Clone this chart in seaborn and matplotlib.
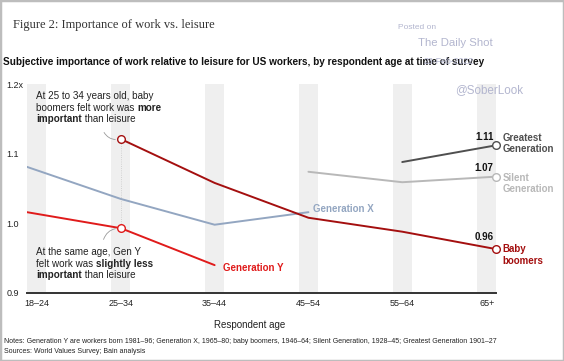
import matplotlib
matplotlib.use("Agg")
import matplotlib.pyplot as plt
import numpy as np
import pandas as pd
import seaborn as sns
from matplotlib.offsetbox import AnnotationBbox, HPacker, TextArea, VPacker
from matplotlib.patches import Rectangle

age_groups = ["18–24", "25–34", "35–44", "45–54", "55–64", "65+"]
gen_y = [1.016, 0.993, 0.940, np.nan, np.nan, np.nan]
gen_x = [1.081, 1.035, 0.998, 1.016, np.nan, np.nan]
boomers = [np.nan, 1.121, 1.058, 1.008, 0.988, 0.963]
silent = [np.nan, np.nan, np.nan, 1.074, 1.059, 1.067]
greatest = [np.nan, np.nan, np.nan, np.nan, 1.088, 1.112]
y_ticks = [0.9, 1.0, 1.1, 1.2]
y_tick_labels = ["0.9", "1.0", "1.1", "1.2x"]

colors = {
    "Generation Y": "#e01b1b",
    "Generation X": "#93a6c1",
    "Baby boomers": "#a40f0f",
    "Silent Generation": "#b8b8b8",
    "Greatest Generation": "#4f4f4f",
}

series = {
    "Generation Y": gen_y,
    "Generation X": gen_x,
    "Baby boomers": boomers,
    "Silent Generation": silent,
    "Greatest Generation": greatest,
}
df = pd.concat(
    [pd.DataFrame({"pos": np.arange(len(age_groups)), "value": v, "generation": k}) for k, v in series.items()]
).dropna()

sns.set_style("white")
plt.rcParams["font.family"] = ["Liberation Sans", "DejaVu Sans"]

fig = plt.figure(figsize=(5.64, 3.61), dpi=100)
ax = fig.add_axes([0.0479, 0.1884, 0.8316, 0.5789])

# grey bands behind each age group (edge bands sit inside the axis)
n = len(age_groups)
band_centers = [0.1] + list(range(1, n - 1)) + [n - 1.1]
for c in band_centers:
    ax.axvspan(c - 0.1, c + 0.1, color="#efefef", lw=0, zorder=0)

sns.lineplot(data=df, x="pos", y="value", hue="generation", palette=colors,
             hue_order=list(series), linewidth=1.4, legend=False, ax=ax, zorder=3)

# dotted guide lines between the highlighted points
ax.plot([1, 1], [boomers[1], gen_y[1]], color="#c8c8c8", lw=0.6, ls=":", zorder=2)
ax.plot([n - 1, n - 1], [greatest[-1], boomers[-1]], color="#d0d0d0", lw=0.6, ls=":", zorder=2)

# open circle markers
for name, vals, idx in [("Baby boomers", boomers, 1), ("Generation Y", gen_y, 1),
                        ("Greatest Generation", greatest, n - 1), ("Silent Generation", silent, n - 1),
                        ("Baby boomers", boomers, n - 1)]:
    ax.plot(idx, vals[idx], "o", ms=5.5, mfc="white", mec=colors[name], mew=1.0, zorder=5, clip_on=False)

ax.set_xlim(0, n - 1)
ax.set_ylim(0.9, 1.2)
ax.set_xticks(band_centers)
ax.set_xticklabels(age_groups, fontsize=6.5, color="#222222")
ax.set_yticks(y_ticks)
ax.set_yticklabels(y_tick_labels, fontsize=6.5, color="#222222", ha="left")
ax.tick_params(axis="x", length=0, pad=4)
ax.tick_params(axis="y", length=0, pad=15)
for s in ["left", "right", "top"]:
    ax.spines[s].set_visible(False)
ax.spines["bottom"].set_color("#333333")
ax.spines["bottom"].set_linewidth(1.4)
ax.set_xlabel("Respondent age", fontsize=7, color="#222222")
ax.xaxis.set_label_coords(0.475, -0.13)
ax.set_ylabel("")


def rich_block(lines, size=7.1):
    # each line is a list of (text, bold) pieces
    rows = []
    for pieces in lines:
        parts = [TextArea(t, textprops=dict(fontsize=size, color="#222222",
                                            fontweight="bold" if b else "normal"))
                 for t, b in pieces]
        rows.append(HPacker(children=parts, pad=0, sep=0))
    return VPacker(children=rows, pad=0, sep=1.2, align="left")


top_note = rich_block([
    [("At 25 to 34 years old, baby", False)],
    [("boomers felt work was ", False), ("more", True)],
    [("important", True), (" than leisure", False)],
])
bottom_note = rich_block([
    [("At the same age, Gen Y", False)],
    [("felt work was ", False), ("slightly less", True)],
    [("important", True), (" than leisure", False)],
])
for box, ypos in [(top_note, 1.190), (bottom_note, 0.966)]:
    ax.add_artist(AnnotationBbox(box, (0.096, ypos), box_alignment=(0, 1), frameon=False, pad=0))

ax.annotate("", xy=(1, boomers[1]), xytext=(-13, 6.5), textcoords="offset points",
            arrowprops=dict(arrowstyle="-", color="#999999", lw=0.6, shrinkB=4,
                            connectionstyle="arc3,rad=0.4"))
ax.annotate("", xy=(1, gen_y[1]), xytext=(-13, -10), textcoords="offset points",
            arrowprops=dict(arrowstyle="-", color="#999999", lw=0.6, shrinkB=4,
                            connectionstyle="arc3,rad=-0.4"))

# series labels
ax.text(2.09, 0.936, "Generation Y", fontsize=7, fontweight="bold", color=colors["Generation Y"], va="center")
ax.text(3.05, 1.021, "Generation X", fontsize=7, fontweight="bold", color=colors["Generation X"], va="center")

end_labels = [
    ("Greatest Generation", greatest, "Greatest\nGeneration", 5.8, 1.5),
    ("Silent Generation", silent, "Silent\nGeneration", 6.5, -5),
    ("Baby boomers", boomers, "Baby\nboomers", 8.6, -4.3),
]
for name, vals, text, dy_val, dy_name in end_labels:
    ax.annotate(f"{vals[-1]:.2f}", xy=(n - 1, vals[-1]), xytext=(-2, dy_val), textcoords="offset points",
                ha="right", va="center", fontsize=7, fontweight="bold", color="#111111", annotation_clip=False)
    ax.annotate(text, xy=(n - 1, vals[-1]), xytext=(4.5, dy_name), textcoords="offset points",
                ha="left", va="center", fontsize=7, fontweight="bold", color=colors[name],
                linespacing=1.15, annotation_clip=False)

# titles and notes
fig.text(0.023, 0.93, "Figure 2: Importance of work vs. leisure", family="Liberation Serif",
         fontsize=9.0, color="#333333", va="center")
fig.text(0.006, 0.828, "Subjective importance of work relative to leisure for US workers, by respondent age at time of survey",
         fontsize=7.2, fontweight="bold", color="#111111", va="center")
fig.text(0.007, 0.053, "Notes: Generation Y are workers born 1981–96; Generation X, 1965–80; baby boomers, 1946–64; "
         "Silent Generation, 1928–45; Greatest Generation 1901–27", fontsize=5.05, color="#222222", va="center")
fig.text(0.007, 0.025, "Sources: World Values Survey; Bain analysis", fontsize=5.05, color="#222222", va="center")

# watermark
wm = "#b3b6cf"
fig.text(0.740, 0.925, "Posted on", fontsize=6, color=wm, va="center", ha="center")
fig.text(0.808, 0.88, "The Daily Shot", fontsize=8.2, color=wm, va="center", ha="center")
fig.text(0.795, 0.83, "23-Feb-2022", fontsize=6.3, color=wm, va="center", ha="center")
fig.text(0.867, 0.75, "@SoberLook", fontsize=8.4, color=wm, va="center", ha="center")

fig.patches.append(Rectangle((0, 0), 1, 1, transform=fig.transFigure, fill=False,
                             edgecolor="#bdbdbd", lw=2.5))

fig.savefig("out.png", dpi=100)
